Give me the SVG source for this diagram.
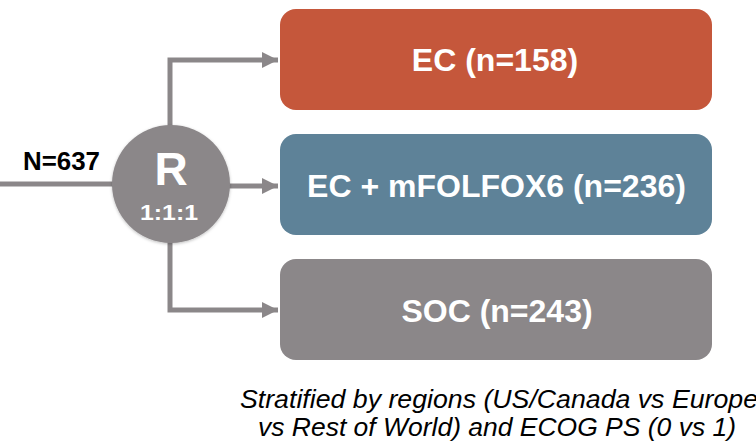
<svg xmlns="http://www.w3.org/2000/svg" width="756" height="443" viewBox="0 0 756 443">
  <defs>
    <marker id="arrow" markerWidth="16" markerHeight="16" refX="16" refY="8" orient="auto" markerUnits="userSpaceOnUse">
      <path d="M0,0 L16,8 L0,16 Z" fill="#8b8789"/>
    </marker>
    <filter id="soft" x="-20%" y="-20%" width="140%" height="140%">
      <feDropShadow dx="0" dy="1" stdDeviation="1.5" flood-color="#000" flood-opacity="0.25"/>
    </filter>
  </defs>
  <style>
    .conn { fill: none; stroke: #8b8789; stroke-width: 5; }
    .sans { font-family: "Liberation Sans", Arial, sans-serif; }
    .box-label { font-family: "Liberation Sans", Arial, sans-serif; font-weight: bold; font-size: 32px; fill: #ffffff; text-anchor: middle; }
    .caption { font-family: "Liberation Sans", Arial, sans-serif; font-style: italic; font-size: 25px; fill: #000000; }
  </style>
  <rect width="756" height="443" fill="#ffffff"/>

  <!-- connectors -->
  <g id="connectors">
    <line class="conn" x1="0" y1="184" x2="120" y2="184"/>
    <polyline class="conn" points="170,130 170,60 278,60" marker-end="url(#arrow)"/>
    <line class="conn" x1="220" y1="186" x2="278" y2="186" marker-end="url(#arrow)"/>
    <polyline class="conn" points="170,236 170,310 278,310" marker-end="url(#arrow)"/>
  </g>

  <g id="total">
    <text class="sans" x="23" y="170" font-weight="bold" font-size="25" fill="#000" textLength="77" lengthAdjust="spacingAndGlyphs">N=637</text>
  </g>

  <g id="randomization">
    <circle cx="171" cy="184" r="59" fill="#8b8789" filter="url(#soft)"/>
    <text class="sans" x="171" y="185" font-weight="bold" font-size="46" fill="#fff" text-anchor="middle">R</text>
    <text class="sans" x="140" y="220" font-weight="bold" font-size="22" fill="#fff" textLength="58" lengthAdjust="spacingAndGlyphs">1:1:1</text>
  </g>

  <g id="arm-ec">
    <rect x="280" y="9" width="432" height="101" rx="16" fill="#c5573b"/>
    <text class="box-label" x="495" y="71">EC (n=158)</text>
  </g>

  <g id="arm-ec-mfolfox6">
    <rect x="280" y="134" width="432" height="101" rx="16" fill="#5e8298"/>
    <text class="box-label" x="496.5" y="197">EC + mFOLFOX6 (n=236)</text>
  </g>

  <g id="arm-soc">
    <rect x="280" y="259" width="432" height="101" rx="16" fill="#8b8789"/>
    <text class="box-label" x="497" y="322">SOC (n=243)</text>
  </g>

  <g id="stratification">
    <text class="caption" x="240" y="408" textLength="518" lengthAdjust="spacingAndGlyphs">Stratified by regions (US/Canada vs Europe</text>
    <text class="caption" x="258" y="436" textLength="478" lengthAdjust="spacingAndGlyphs">vs Rest of World) and ECOG PS (0 vs 1)</text>
  </g>
</svg>
